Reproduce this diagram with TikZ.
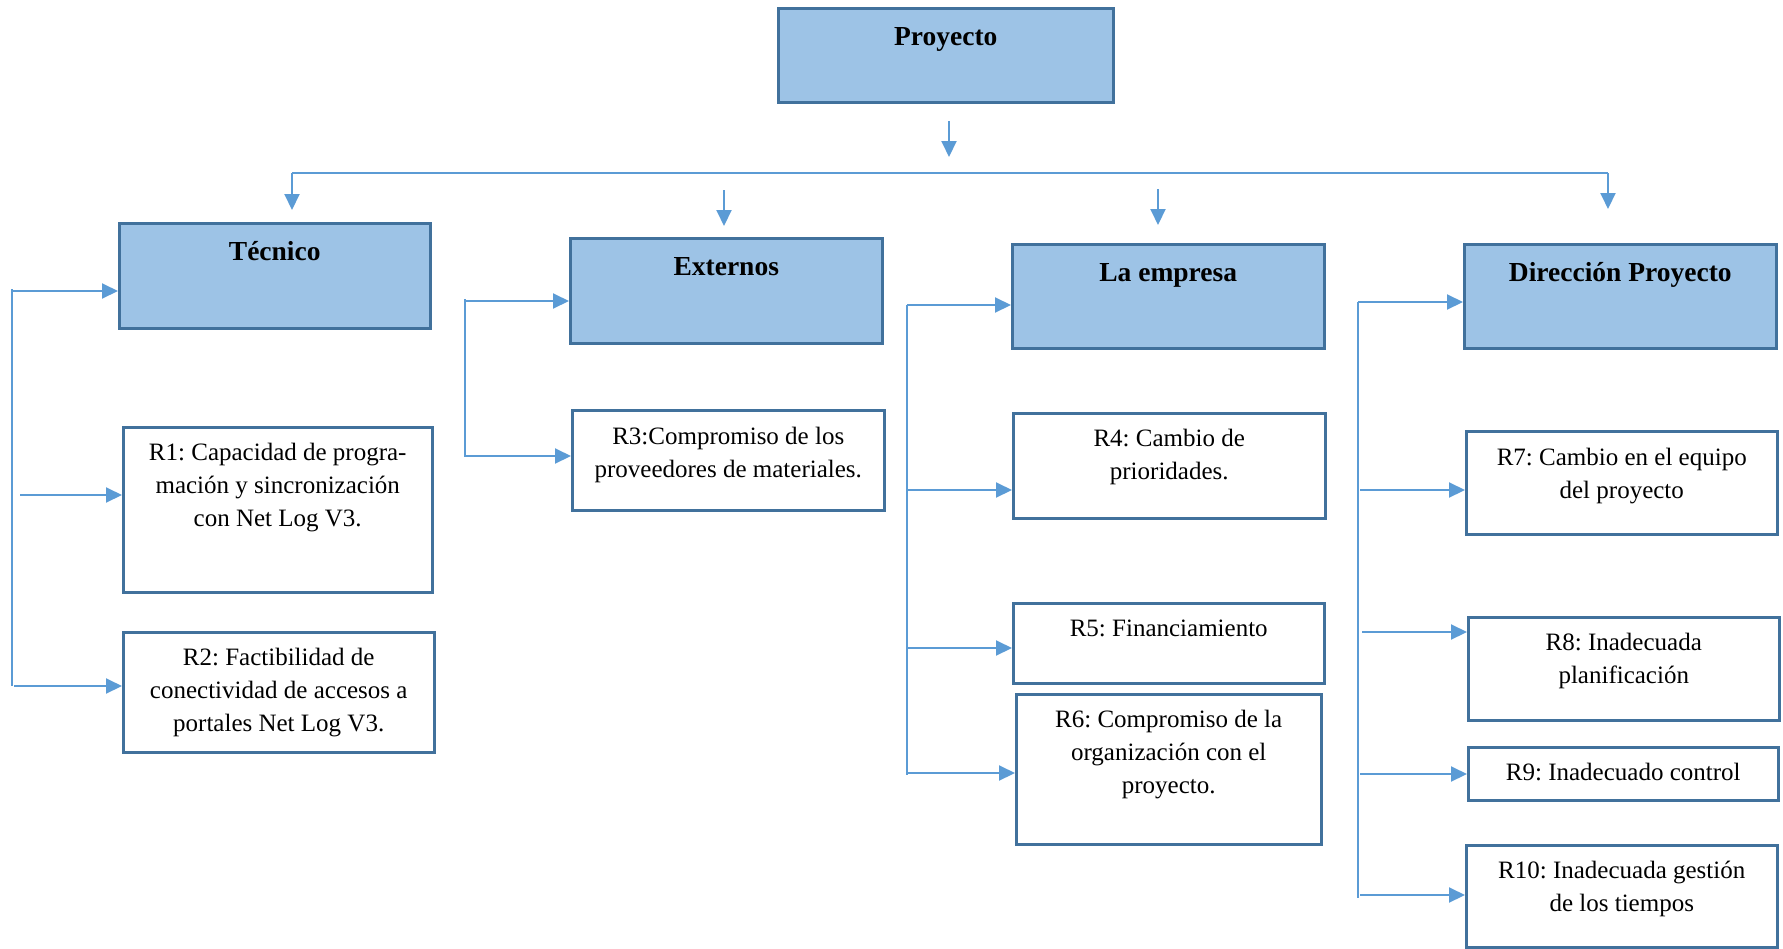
\documentclass[tikz,border=0pt]{standalone}
\usepackage{fontspec}
\setmainfont{Liberation Serif}
\usetikzlibrary{arrows.meta}
\frenchspacing

\definecolor{boxfill}{HTML}{9DC3E6}
\definecolor{boxline}{HTML}{41719C}
\definecolor{link}{HTML}{5B9BD5}

% #1 width, #2 height, #3 first baseline from the top, #4 text
\newcommand\boxbody[4]{\parbox[t][#2pt][t]{#1pt}{\centering\rule{0pt}{#3pt}#4}}

\tikzset{
  conn/.style={draw=link, line width=2pt},
  arr/.style={conn, -{Triangle[length=16pt,width=15pt]}},
  head/.style={draw=boxline, fill=boxfill, line width=2.5pt, inner sep=0pt,
    anchor=north west, font=\fontsize{27.5}{33}\selectfont\bfseries},
  risk/.style={draw=boxline, fill=white, line width=2.5pt, inner sep=0pt,
    anchor=north west, font=\fontsize{25}{33}\selectfont},
}

\begin{document}
\begin{tikzpicture}[x=1pt,y=-1pt]
\useasboundingbox (0,0) rectangle (1783,948);

% top level and categories
\node[head] (proj) at (777,7)   {\boxbody{335}{94}{37}{Proyecto}};
\node[head] (tec)  at (118,222) {\boxbody{311}{105}{37}{Técnico}};
\node[head] (ext)  at (569,237) {\boxbody{312}{105}{37}{Externos}};
\node[head] (emp)  at (1011,243){\boxbody{312}{104}{37}{La empresa}};
\node[head] (dir)  at (1463,243){\boxbody{312}{104}{37}{Dirección Proyecto}};

% risks
\node[risk] (r1)  at (122,426)  {\boxbody{309}{165}{33}{R1: Capacidad de progra-\\mación y sincronización\\con Net Log V3.}};
\node[risk] (r2)  at (122,631)  {\boxbody{311}{120}{33}{R2: Factibilidad de\\conectividad de accesos a\\portales Net Log V3.}};
\node[risk] (r3)  at (571,409)  {\boxbody{312}{100}{34}{R3:Compromiso de los\\proveedores de materiales.}};
\node[risk] (r4)  at (1012,412) {\boxbody{312}{105}{33}{R4: Cambio de\\prioridades.}};
\node[risk] (r5)  at (1012,602) {\boxbody{311}{80}{33}{R5: Financiamiento}};
\node[risk] (r6)  at (1015,693) {\boxbody{305}{150}{33}{R6: Compromiso de la\\organización con el\\proyecto.}};
\node[risk] (r7)  at (1465,430) {\boxbody{311}{103}{34}{R7: Cambio en el equipo\\del proyecto}};
\node[risk] (r8)  at (1467,616) {\boxbody{311}{103}{33}{R8: Inadecuada\\planificación}};
\node[risk] (r9)  at (1467,746) {\boxbody{310}{53}{33}{R9: Inadecuado control}};
\node[risk] (r10) at (1465,844) {\boxbody{311}{102}{33}{R10: Inadecuada gestión\\de los tiempos}};

% distribution bar under the project
\coordinate (pa) at (949,121);
\coordinate (pb) at (949,157);
\coordinate (hl) at (292,173);
\coordinate (hr) at (1608,173);
\coordinate (tt) at (292,210);
\coordinate (ea) at (724,190);
\coordinate (eb) at (724,226);
\coordinate (ma) at (1158,189);
\coordinate (mb) at (1158,225);
\coordinate (dt) at (1608,209);

\draw[arr] (pa) -- (pb);
\draw[conn] (hl) -- (hr);
\draw[arr] (hl) -- (tt);
\draw[arr] (ea) -- (eb);
\draw[arr] (ma) -- (mb);
\draw[arr] (hr) -- (dt);

% bracket: Técnico
\coordinate (t0) at (12,289);
\coordinate (t1) at (13,291);
\coordinate (t2) at (20,495);
\coordinate (t3) at (14,686);
\draw[conn] (t0) -- (12,686);
\draw[arr] (t1) -- (t1 -| tec.west);
\draw[arr] (t2) -- (t2 -| r1.west);
\draw[arr] (t3) -- (t3 -| r2.west);

% bracket: Externos
\coordinate (x0) at (465,299);
\coordinate (x1) at (465,301);
\coordinate (x2) at (465,456);
\draw[conn] (x0) -- (465,457);
\draw[arr] (x1) -- (x1 -| ext.west);
\draw[arr] (x2) -- (x2 -| r3.west);

% bracket: La empresa
\coordinate (m0) at (907,305);
\coordinate (m1) at (907,305);
\coordinate (m2) at (907,490);
\coordinate (m3) at (907,648);
\coordinate (m4) at (907,773);
\draw[conn] (m0) -- (907,775);
\draw[arr] (m1) -- (m1 -| emp.west);
\draw[arr] (m2) -- (m2 -| r4.west);
\draw[arr] (m3) -- (m3 -| r5.west);
\draw[arr] (m4) -- (m4 -| r6.west);

% bracket: Dirección Proyecto
\coordinate (d0) at (1358,302);
\coordinate (d1) at (1358,302);
\coordinate (d2) at (1360,490);
\coordinate (d3) at (1362,632);
\coordinate (d4) at (1360,774);
\coordinate (d5) at (1360,895);
\draw[conn] (d0) -- (1358,898);
\draw[arr] (d1) -- (d1 -| dir.west);
\draw[arr] (d2) -- (d2 -| r7.west);
\draw[arr] (d3) -- (d3 -| r8.west);
\draw[arr] (d4) -- (d4 -| r9.west);
\draw[arr] (d5) -- (d5 -| r10.west);
\end{tikzpicture}
\end{document}
